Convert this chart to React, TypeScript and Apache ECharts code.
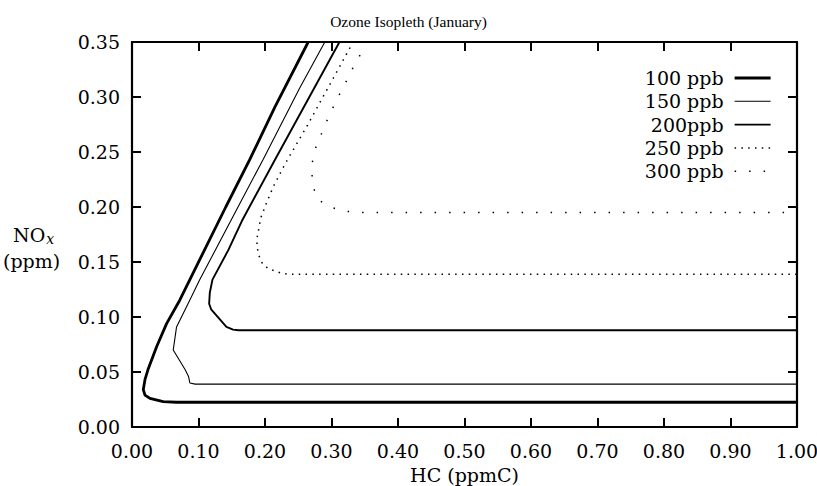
import React, { useEffect, useRef } from "react";
import * as echarts from "echarts";

const FONT = "DejaVu Serif";

const titleText = "Ozone Isopleth (January)";
const xName = "HC (ppmC)";
const seriesNames = ["100 ppb", "150 ppb", "200ppb", "250 ppb", "300 ppb"];

const xMin = 0;
const xMax = 1;
const xStep = 0.1;
const yMin = 0;
const yMax = 0.35;
const yStep = 0.05;

// [HC, NOx]
const ppb100: [number, number][] = [
  [0.265, 0.35], [0.215, 0.291], [0.177, 0.243], [0.141, 0.2], [0.087, 0.134],
  [0.072, 0.1155], [0.052, 0.094], [0.037, 0.073], [0.0245, 0.053], [0.0195, 0.043],
  [0.017, 0.034], [0.0195, 0.029], [0.027, 0.026], [0.047, 0.023], [0.067, 0.0225],
  [1.0, 0.0225],
];
const ppb150: [number, number][] = [
  [0.29, 0.35], [0.252, 0.308], [0.197, 0.243], [0.162, 0.203], [0.102, 0.134],
  [0.087, 0.1155], [0.067, 0.091], [0.062, 0.07], [0.08, 0.052], [0.085, 0.046],
  [0.087, 0.04], [0.095, 0.039], [1.0, 0.039],
];
const ppb200: [number, number][] = [
  [0.312, 0.35], [0.215, 0.243], [0.165, 0.187], [0.145, 0.161], [0.121, 0.134],
  [0.117, 0.122], [0.116, 0.112], [0.119, 0.107], [0.142, 0.091], [0.152, 0.0885],
  [0.16, 0.088], [1.0, 0.088],
];
const ppb250: [number, number][] = [
  [0.328, 0.345], [0.264, 0.2745], [0.23, 0.239], [0.2125, 0.2185], [0.2025, 0.204],
  [0.1935, 0.19], [0.19, 0.178], [0.1875, 0.17], [0.1885, 0.163], [0.19, 0.157],
  [0.1965, 0.148], [0.205, 0.144], [0.215, 0.1418], [0.225, 0.1397], [0.235, 0.1388],
  [1.0, 0.1388],
];
const ppb300: [number, number][] = [
  [0.343, 0.338], [0.335, 0.33], [0.325, 0.3175], [0.31, 0.3], [0.302, 0.29],
  [0.292, 0.277], [0.275, 0.252], [0.27, 0.237], [0.2717, 0.22], [0.279, 0.207],
  [0.2988, 0.1997], [0.322, 0.196], [0.345, 0.195], [1.0, 0.195],
];

const seriesData = [ppb100, ppb150, ppb200, ppb250, ppb300];
const lineWidths = [2.8, 1.1, 1.9, 1.5, 1.5];
const lineTypes: any[] = ["solid", "solid", "solid", [1.5, 5.3], [1.5, 13]];

const mkLine = () => ({ show: true, onZero: false, lineStyle: { color: "#000", width: 2.2 } });
const mkTick = () => ({ show: true, inside: true, length: 9, lineStyle: { color: "#000", width: 2 } });
const mkLabel = (margin: number) => ({
  show: true, fontFamily: FONT, fontSize: 19, color: "#000", margin,
  formatter: (v: number) => v.toFixed(2),
});

export default function App() {
  const ref = useRef<HTMLDivElement>(null);
  useEffect(() => {
    const chart = echarts.init(ref.current!, null, { renderer: "svg" });
    chart.setOption({
      animation: false,
      backgroundColor: "#fff",
      title: {
        text: titleText,
        left: "center",
        top: 8,
        textStyle: { fontFamily: "Liberation Serif", fontSize: 15.5, fontWeight: "normal", color: "#000" },
      },
      grid: { left: 132, right: 20, top: 42, bottom: 59, containLabel: false, outerBoundsMode: "none" },
      legend: {
        orient: "vertical",
        right: 40,
        top: 63,
        align: "right",
        itemWidth: 36,
        itemHeight: 12,
        itemGap: 3.3,
        data: seriesNames.map((n, i) => ({
          name: n,
          itemStyle: { opacity: 0 },
          lineStyle: { color: "#000", width: lineWidths[i], type: lineTypes[i], cap: "butt" },
        })),
        itemStyle: { opacity: 0 },
        textStyle: { fontFamily: FONT, fontSize: 19, color: "#000", lineHeight: 20, padding: [0, 6, 0, 0] },
      },
      xAxis: [
        {
          type: "value", min: xMin, max: xMax, interval: xStep, position: "bottom",
          axisLine: mkLine(), axisTick: mkTick(), splitLine: { show: false },
          axisLabel: mkLabel(14),
          name: xName, nameLocation: "middle", nameGap: 38,
          nameTextStyle: { fontFamily: FONT, fontSize: 19, color: "#000" },
        },
        {
          type: "value", min: xMin, max: xMax, interval: xStep, position: "top",
          axisLine: mkLine(), axisTick: mkTick(), splitLine: { show: false }, axisLabel: { show: false },
        },
      ],
      yAxis: [
        {
          type: "value", min: yMin, max: yMax, interval: yStep, position: "left",
          axisLine: mkLine(), axisTick: mkTick(), splitLine: { show: false },
          axisLabel: mkLabel(12),
        },
        {
          type: "value", min: yMin, max: yMax, interval: yStep, position: "right",
          axisLine: mkLine(), axisTick: mkTick(), splitLine: { show: false }, axisLabel: { show: false },
        },
      ],
      graphic: [
        {
          type: "text", left: 13, top: 225, silent: true,
          style: {
            text: "{n|NO}{s|x}",
            rich: {
              n: { fontFamily: FONT, fontSize: 19, fill: "#000" },
              s: { fontFamily: FONT, fontSize: 14, fontStyle: "italic", fill: "#000", padding: [8, 0, 0, 1] },
            },
          },
        },
        {
          type: "text", left: 3, top: 251, silent: true,
          style: { text: "(ppm)", fontFamily: FONT, fontSize: 19, fill: "#000" },
        },
      ],
      series: seriesData.map((d, i) => ({
        name: seriesNames[i],
        type: "line",
        data: d,
        xAxisIndex: 0,
        yAxisIndex: 0,
        symbol: "none",
        showSymbol: false,
        silent: true,
        itemStyle: { color: "#000" },
        lineStyle: { color: "#000", width: lineWidths[i], type: lineTypes[i], cap: "butt" },
      })),
    });
    return () => chart.dispose();
  }, []);
  return <div ref={ref} style={{ position: "fixed", left: 0, top: 0, width: 817, height: 486 }} />;
}
